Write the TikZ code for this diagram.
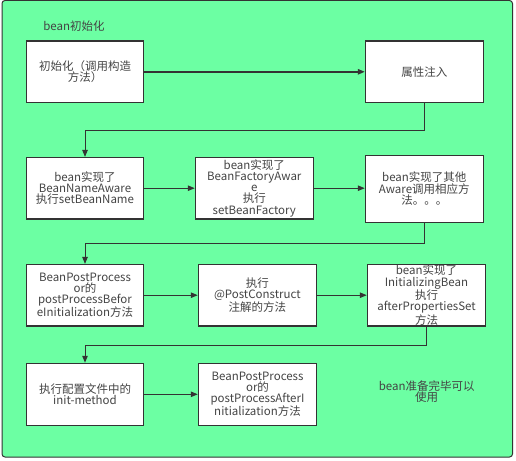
\documentclass[tikz,border=0pt]{standalone}
\usepackage{fontspec}
\setmainfont{Noto Sans CJK SC}
\usetikzlibrary{arrows.meta}
\definecolor{beangreen}{RGB}{108,255,163}
\definecolor{beantext}{RGB}{68,68,68}
\definecolor{beanline}{RGB}{51,51,51}
\begin{document}
\begin{tikzpicture}[x=1pt, y=-1pt,
    stepbox/.style={draw=beanline, fill=white, line width=1.1pt, inner sep=0pt,
      minimum width=117pt, minimum height=61.5pt, align=center, text=beantext,
      font=\fontsize{11.5}{11.2}\selectfont},
    plain/.style={align=center, text=beantext, font=\fontsize{11.5}{11.2}\selectfont},
    flow/.style={draw=beanline, line width=1pt, -{Triangle[length=7pt,width=5.5pt]}}]
      \useasboundingbox (0, 0) rectangle (516, 460);
      \filldraw[fill=beangreen, draw=beanline, line width=1pt, rounded corners=3pt] (2, 0.5) rectangle (512.5, 457);
      \node[plain] (title) at (74, 26) {bean初始化};
      % row 1
      \node[stepbox] (init) at (85, 71.8) {初始化（调用构造\\方法）};
      \node[stepbox, minimum width=118pt] (inject) at (424.3, 71.8) {属性注入};
      % row 2
      \node[stepbox] (nameaware) at (85, 188.2) {bean实现了\\BeanNameAware\\执行setBeanName};
      \node[stepbox, minimum width=118pt] (factoryaware) at (254.3, 188.2) {bean实现了\\BeanFactoryAwar\\e\\执行\\setBeanFactory};
      \node[stepbox, minimum width=118pt, minimum height=66.7pt] (otheraware) at (424.3, 188.7) {bean实现了其他\\Aware调用相应方\\法。。。};
      % row 3
      \node[stepbox] (before) at (85, 295.2) {BeanPostProcess\\or的\\postProcessBefor\\eInitialization方法};
      \node[stepbox, minimum width=118pt] (postcon) at (257.3, 295.2) {执行\\@PostConstruct\\注解的方法};
      \node[stepbox, minimum width=118.4pt] (initbean) at (426.5, 295.2) {bean实现了\\InitializingBean\\执行\\afterPropertiesSet\\方法};
      % row 4
      \node[stepbox, minimum height=62pt] (initmethod) at (85, 394.3) {执行配置文件中的\\init-method};
      \node[stepbox, minimum width=118.4pt, minimum height=62pt] (after) at (257.5, 394.3) {BeanPostProcess\\or的\\postProcessAfterI\\nitialization方法};
      \node[plain] (ready) at (426.7, 392) {bean准备完毕可以\\使用};
      % turns
      \coordinate (turna) at (424.3, 130.3);
      \coordinate (turnb) at (424.3, 243.3);
      \coordinate (turnc) at (426.5, 345.3);
      \draw[flow, line width=1.4pt] (init) -- (inject);
      \draw[flow] (inject.south) -- (turna) -| (nameaware.north);
      \draw[flow] (nameaware) -- (factoryaware);
      \draw[flow] (factoryaware.east) -- (factoryaware.east -| otheraware.west);
      \draw[flow] (otheraware.south) -- (turnb) -| (before.north);
      \draw[flow] (before) -- (postcon);
      \draw[flow] (postcon) -- (initbean);
      \draw[flow] (initbean.south) -- (turnc) -| (initmethod.north);
      \draw[flow] (initmethod) -- (after);
    \end{tikzpicture}
\end{document}
